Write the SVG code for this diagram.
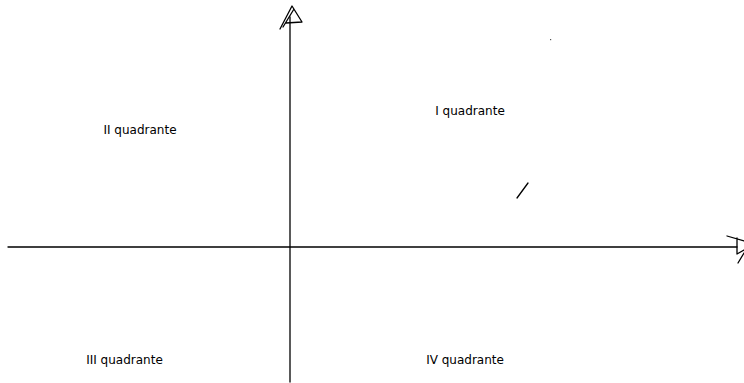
<svg xmlns="http://www.w3.org/2000/svg" width="744" height="383" viewBox="0 0 744 383">
<style>
.ln{stroke:#000;stroke-width:1.3;fill:none;stroke-linecap:round;stroke-linejoin:round}
.t{font-family:"Comic Sans MS","DejaVu Sans",sans-serif;font-size:12px;fill:#000;text-anchor:middle}
</style>
<rect width="744" height="383" fill="#fff"/>
<g id="connectors">
<path class="ln" d="M290 382 L290 17"/>
<path class="ln" d="M280 29 L292 6 L302 22 L286 23 M283 27 L294 9"/>
<path class="ln" d="M8 247 L737 247"/>
<path class="ln" d="M727 236 L744 241 M737 238 L737 254 L744 250 M738 263 L744 253"/>
<path class="ln" d="M517 198 L528 183"/>
<rect x="550" y="39" width="1.2" height="1.2" fill="#555"/>
</g>
<g id="q2"><text class="t" x="140" y="134">II quadrante</text></g>
<g id="q1"><text class="t" x="470" y="115">I quadrante</text></g>
<g id="q3"><text class="t" x="124.5" y="364">III quadrante</text></g>
<g id="q4"><text class="t" x="465" y="364">IV quadrante</text></g>
</svg>
